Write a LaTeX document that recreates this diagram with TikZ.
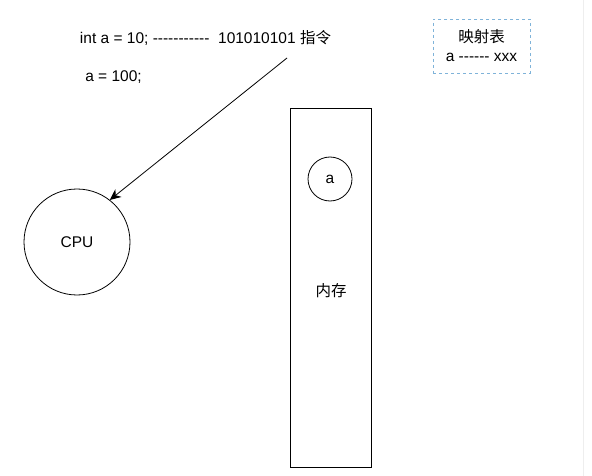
\documentclass[tikz,border=0pt]{standalone}
\usepackage{fontspec}
\setmainfont{Liberation Sans}
\newfontfamily\cjk{Noto Sans CJK SC}
\usepackage{xcolor}
\usepackage{tikz}
\usetikzlibrary{calc,arrows.meta}
\definecolor{bg}{HTML}{FFFFFF}
\definecolor{ink}{HTML}{000000}
\definecolor{selblue}{HTML}{7FB3D9}
\definecolor{faint}{HTML}{EEEEEE}
\newcommand{\hy}{-{}}
\tikzset{
  unit/.style={draw=ink, line width=0.8pt},
  maptab/.style={draw=selblue, dashed, line width=0.7pt, align=center},
  lab/.style={text=ink, font=\fontsize{15.5}{19}\selectfont},
  arr/.style={-{Stealth[length=11pt,width=10pt]}, line width=0.8pt}
}
\begin{document}
\begin{tikzpicture}[x=1pt,y=-1pt]
  \useasboundingbox[fill=bg] (0,0) rectangle (592,476);
  \draw[faint, line width=0.8pt] (583,0) -- (583,476);

  % code lines
  \node[lab] (code) at (205.5,38) {int a = 10; \hy\hy\hy\hy\hy\hy\hy\hy\hy\hy\hy\ \ 101010101 {\cjk 指令}};
  \node[lab] (assign) at (113.5,77) {a = 100;};
  \coordinate (tail) at (287,58);

  % cpu
  \node[unit, circle, minimum size=106pt, lab] (cpu) at (77,242) {CPU};
  \draw[arr] (tail) -- (cpu.52);

  % memory
  \draw[unit] (290,108) rectangle (371,467);
  \node[lab] (mem) at (331,291) {\cjk 内存};
  \node[unit, circle, minimum size=44pt, inner sep=0pt, lab] (var) at (330,179) {a};

  % mapping table
  \node[maptab, lab, minimum width=97pt, minimum height=54pt] (map) at (481.5,46)
    {{\cjk 映射表}\\a \hy\hy\hy\hy\hy\hy\ xxx};
\end{tikzpicture}
\end{document}
